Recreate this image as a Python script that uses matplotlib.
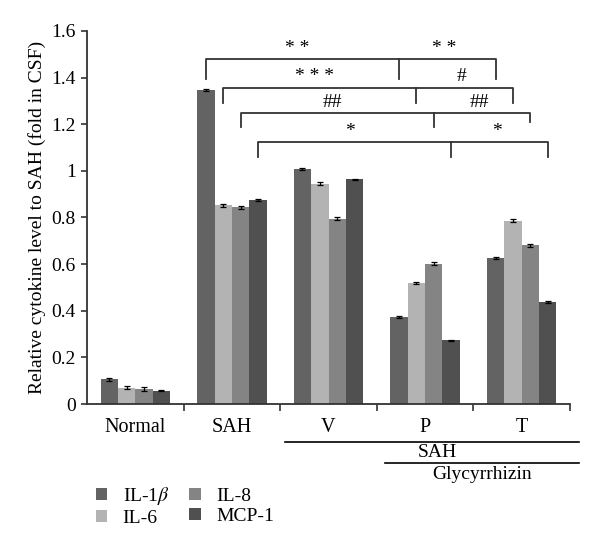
import matplotlib.pyplot as plt
import numpy as np

plt.rcParams['font.family'] = ['Liberation Serif', 'DejaVu Serif']
plt.rcParams['mathtext.fontset'] = 'stix'

# Grupos e séries
grupos = ["Normal", "SAH", "V", "P", "T"]
series = ["IL-1$\\beta$", "IL-6", "IL-8", "MCP-1"]
cores = ["#636363", "#b3b3b3", "#848484", "#505050"]

il1b = [0.107, 1.347, 1.008, 0.375, 0.625]
il6 = [0.071, 0.852, 0.945, 0.519, 0.787]
il8 = [0.063, 0.843, 0.795, 0.602, 0.680]
mcp1 = [0.058, 0.875, 0.964, 0.273, 0.437]

err_il1b = [0.006, 0.004, 0.004, 0.004, 0.004]
err_il6 = [0.008, 0.006, 0.006, 0.006, 0.006]
err_il8 = [0.009, 0.008, 0.007, 0.006, 0.006]
err_mcp1 = [0.004, 0.003, 0.003, 0.003, 0.003]

valores = [il1b, il6, il8, mcp1]
erros = [err_il1b, err_il6, err_il8, err_mcp1]

# Comparações: (índice da série, altura, queda esq/meio, queda dir, rótulo esq, rótulo dir)
comparacoes = [
    (0, 1.48, 1.394, 1.394, "* *", "* *"),
    (1, 1.356, 1.291, 1.291, "* * *", "#"),
    (2, 1.248, 1.188, 1.21, "##", "##"),
    (3, 1.124, 1.06, 1.06, "*", "*"),
]

fig = plt.figure(figsize=(6, 5.52), dpi=100)
ax = fig.add_axes([0.145, 0.268, 0.805, 0.676])

largura = 0.18
x = np.arange(len(grupos))
for i, (nome, v, e, c) in enumerate(zip(series, valores, erros, cores)):
    pos = x + (i - 1.5) * largura
    ax.bar(pos, v, largura, color=c, label=nome, zorder=2)
    ax.errorbar(pos, v, yerr=e, fmt="none", ecolor="black", elinewidth=0.9,
                capsize=2, capthick=0.9, zorder=3)

ax.set_xlim(-0.5, 4.5)
ax.set_ylim(0, 1.6)
ax.set_yticks(np.arange(0, 1.61, 0.2))
ax.set_yticklabels(["0", "0.2", "0.4", "0.6", "0.8", "1", "1.2", "1.4", "1.6"], fontsize=14)
ax.set_xticks(np.arange(0.5, 4.6, 1))
ax.set_xticklabels([])
ax.set_xticks(x, minor=True)
ax.set_xticklabels(grupos, minor=True, fontsize=14.5)
ax.tick_params(axis="x", which="major", direction="out", length=5, width=1.2, color="#333333")
ax.tick_params(axis="x", which="minor", length=0, pad=10)
ax.tick_params(axis="y", direction="out", length=4, width=1.2, color="#333333", pad=4)
for s in ["top", "right"]:
    ax.spines[s].set_visible(False)
for s in ["left", "bottom"]:
    ax.spines[s].set_linewidth(1.3)
    ax.spines[s].set_color("#333333")
ax.set_ylabel("Relative cytokine level to SAH (fold in CSF)", fontsize=14)

# Colchetes de significância
for i, topo, baixo, baixo_dir, rot_esq, rot_dir in comparacoes:
    off = (i - 1.5) * largura
    xa, xb, xc = 1 + off, 3 + off, 4 + off
    ax.plot([xa, xa, xc, xc], [baixo, topo, topo, baixo_dir], color="#333333", lw=1.3,
            clip_on=False, zorder=4)
    ax.plot([xb, xb], [topo, baixo], color="#333333", lw=1.3, clip_on=False, zorder=4)
    ax.text((xa + xb) / 2 - 0.05, topo + 0.01, rot_esq, ha="center", va="bottom", fontsize=14)
    ax.text((xb + xc) / 2 - 0.03, topo + 0.01, rot_dir, ha="center", va="bottom", fontsize=14)

# Linhas de grupo abaixo do eixo
trans = ax.get_xaxis_transform()
ax.plot([1.55, 4.59], [-0.101, -0.101], color="black", lw=1.2, transform=trans, clip_on=False)
ax.plot([2.585, 4.59], [-0.157, -0.157], color="black", lw=1.2, transform=trans, clip_on=False)
ax.text(3.13, -0.131, "SAH", ha="center", va="center", fontsize=14, transform=trans)
ax.text(3.59, -0.188, "Glycyrrhizin", ha="center", va="center", fontsize=14, transform=trans)

fig.legend(loc="upper left", bbox_to_anchor=(0.13, 0.153), ncol=2, frameon=False,
           fontsize=14, handlelength=0.6, handleheight=0.6, columnspacing=1.0,
           labelspacing=0.15, handletextpad=0.8)

fig.savefig("out.png", dpi=100)
